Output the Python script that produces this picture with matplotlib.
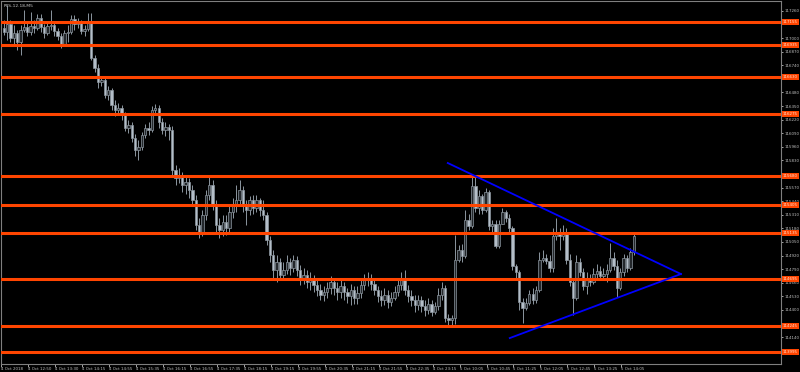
import matplotlib
matplotlib.use("Agg")
import matplotlib.pyplot as plt
import matplotlib.transforms as mtransforms

# RTS-12.18, M5 bars (4-5 Oct 2018), prices
first_open = 117095
closes = [
    117060, 117135, 117000, 117050, 116965, 117080, 117105, 117060, 117115, 117095,
    117195, 117105, 117050, 117115, 117125, 117070, 117020, 116945, 117050, 117060,
    117185, 117135, 117155, 117070, 117090, 117155, 116810, 116715, 116580, 116600,
    116455, 116505, 116360, 116310, 116330, 116265, 116140, 116170, 116045, 115930,
    115960, 116075, 116140, 116120, 116310, 116330, 116200, 116120, 116150, 116120,
    115740, 115660, 115690, 115595, 115625, 115545, 115450, 115210, 115145, 115310,
    115500, 115595, 115405, 115210, 115165, 115240, 115185, 115335, 115405, 115450,
    115545, 115405, 115355, 115450, 115375, 115450, 115355, 115310, 115070, 114925,
    114780, 114860, 114735, 114780, 114860, 114800, 114875, 114780, 114705, 114735,
    114665, 114705, 114640, 114590, 114540, 114570, 114610, 114665, 114610, 114570,
    114630, 114570, 114530, 114590, 114515, 114560, 114640, 114685, 114705, 114645,
    114590, 114530, 114495, 114540, 114475, 114515, 114570, 114640, 114685, 114590,
    114530, 114495, 114445, 114495, 114435, 114400, 114455, 114380, 114435, 114540,
    114610, 114320, 114300, 114320, 114875, 114970, 114915, 115260, 115200, 115585,
    115375, 115490, 115355, 115530, 115200, 115220, 115010, 115220, 115335, 115280,
    115185, 114820, 114760, 114475, 114415, 114465, 114550, 114495, 114590, 114875,
    114895, 114865, 114800, 115105, 115125, 115105, 115145, 114875, 114665, 114515,
    114860, 114760, 114630, 114705, 114665, 114745, 114770, 114725, 114745, 114780,
    114895, 114820, 114610, 114760, 114895, 114800, 114955, 115105,
]
highs = [
    117175, 117320, 117175, 117125, 117080, 117125, 117270, 117155, 117250, 117175,
    117230, 117230, 117135, 117155, 117270, 117155, 117095, 117050, 117080, 117125,
    117220, 117220, 117195, 117175, 117125, 117240, 117240, 116840, 116755, 116640,
    116620, 116540, 116525, 116410, 116380, 116360, 116295, 116215, 116200, 116085,
    116025, 116100, 116180, 116200, 116350, 116370, 116360, 116235, 116200, 116180,
    116160, 115785, 115755, 115720, 115680, 115660, 115595, 115500, 115280, 115355,
    115545, 115680, 115640, 115450, 115280, 115310, 115310, 115405, 115470, 115595,
    115640, 115585, 115450, 115490, 115500, 115500, 115470, 115450, 115335, 115105,
    114970, 114925, 114895, 114860, 114925, 114895, 114925, 114915, 114830, 114800,
    114780, 114760, 114735, 114685, 114645, 114630, 114665, 114725, 114705, 114665,
    114685, 114665, 114610, 114645, 114630, 114630, 114685, 114745, 114760, 114745,
    114705, 114630, 114590, 114610, 114590, 114570, 114630, 114705, 114760, 114780,
    114640, 114590, 114540, 114540, 114530, 114495, 114515, 114495, 114475, 114610,
    114665, 114640, 114360, 114350, 115115, 115020, 115030, 115355, 115315, 115690,
    115680, 115545, 115510, 115565, 115545, 115260, 115260, 115260, 115375, 115355,
    115315, 115200, 114840, 114780, 114515, 114515, 114590, 114610, 114630, 114955,
    114970, 114935, 114925, 115185, 115280, 115185, 115210, 115185, 114935, 114705,
    114925, 114895, 114800, 114760, 114745, 114800, 114840, 114820, 114800, 114840,
    115040, 114955, 114875, 114800, 114935, 114925, 114990, 115125,
]
lows = [
    117030, 116980, 116965, 116935, 116885, 116840, 117060, 117020, 117030, 117050,
    117080, 117060, 117000, 117030, 117080, 117020, 116980, 116905, 116925, 116965,
    117040, 117080, 117095, 117040, 117020, 117070, 116790, 116675, 116525, 116540,
    116430, 116410, 116310, 116255, 116275, 116215, 116110, 116090, 116005, 115870,
    115835, 115930, 116045, 116075, 116100, 116275, 116140, 116085, 116065, 116025,
    115690, 115595, 115615, 115525, 115510, 115470, 115405, 115165, 115090, 115105,
    115260, 115450, 115355, 115145, 115090, 115105, 115115, 115145, 115280, 115335,
    115405, 115335, 115210, 115310, 115315, 115335, 115300, 115260, 115020, 114860,
    114705, 114665, 114685, 114705, 114745, 114735, 114760, 114725, 114640, 114645,
    114610, 114590, 114570, 114530, 114495, 114485, 114515, 114550, 114540, 114495,
    114515, 114495, 114465, 114445, 114455, 114455, 114515, 114590, 114630, 114590,
    114540, 114475, 114435, 114445, 114415, 114435, 114495, 114530, 114590, 114540,
    114475, 114435, 114380, 114400, 114380, 114340, 114360, 114340, 114360, 114400,
    114495, 114285, 114245, 114255, 114265, 114860, 114860, 114895, 115165, 115185,
    115335, 115315, 115315, 115335, 115165, 115145, 114990, 114990, 115220, 115240,
    115145, 114780, 114705, 114400, 114275, 114400, 114445, 114455, 114465, 114570,
    114860, 114840, 114760, 114760, 115070, 114970, 115070, 114840, 114630, 114350,
    114495, 114725, 114590, 114550, 114630, 114645, 114705, 114685, 114685, 114665,
    114760, 114780, 114525, 114590, 114725, 114760, 114780, 114925,
]

# horizontal levels (orange) and triangle lines (blue)
levels = [117155, 116935, 116630, 116275, 115680, 115405, 115135, 114695, 114245, 113995]
upper_line_x = [131.8, 201.0]
upper_line_y = [115805, 114743]
lower_line_x = [150.2, 201.0]
lower_line_y = [114130, 114743]

price_ticks = list(range(114140, 117261, 130))
time_labels = [
    "4 Oct 2018", "4 Oct 12:50", "4 Oct 13:30", "4 Oct 14:15", "4 Oct 14:55",
    "4 Oct 15:35", "4 Oct 16:15", "4 Oct 16:55", "4 Oct 17:35", "4 Oct 18:15",
    "4 Oct 19:15", "4 Oct 19:55", "4 Oct 20:35", "4 Oct 21:15", "4 Oct 21:55",
    "4 Oct 22:35", "4 Oct 23:15", "5 Oct 10:05", "5 Oct 10:45", "5 Oct 11:25",
    "5 Oct 12:05", "5 Oct 12:45", "5 Oct 13:25", "5 Oct 14:05",
]

opens = [first_open] + closes[:-1]
xs = list(range(len(closes)))

fig = plt.figure(figsize=(8, 3.72), dpi=100, facecolor="black")
ax = fig.add_axes([1 / 800, 8 / 372, 780 / 800, 363 / 372])
ax.set_facecolor("black")

grey = "#8c969f"
bear = "#b4bec8"
bull = "#23272b"

ax.vlines(xs, lows, highs, color=grey, linewidth=0.7, zorder=2)
bottoms = [min(o, c) for o, c in zip(opens, closes)]
heights = [max(abs(c - o), 6) for o, c in zip(opens, closes)]
fills = [bull if c > o else bear for o, c in zip(opens, closes)]
ax.bar(xs, heights, bottom=bottoms, width=0.7, color=fills,
       edgecolor=grey, linewidth=0.5, zorder=3)

for lv in levels:
    ax.axhline(lv, color="#ff4500", linewidth=2.2, zorder=4)

ax.plot(upper_line_x, upper_line_y, color="#0000ff", linewidth=1.3, zorder=5)
ax.plot(lower_line_x, lower_line_y, color="#0000ff", linewidth=1.3, zorder=5)

ax.set_xlim(-0.8, 230.7)
ax.set_ylim(113882, 117355)

for side in ["left", "right", "top", "bottom"]:
    ax.spines[side].set_color("#7f7f7f")
    ax.spines[side].set_linewidth(0.8)

# price scale: labels hidden where an orange level tag sits on top of them
shown_ticks = [t for t in price_ticks if min(abs(t - lv) for lv in levels) > 30]
ax.yaxis.tick_right()
ax.set_yticks(shown_ticks)
ax.set_yticklabels([str(t) for t in shown_ticks])
ax.tick_params(axis="y", colors="#bfbfbf", labelsize=2.9, length=1.5, pad=0.8,
               width=0.6)

ax.set_xticks([8 * k - 0.7 for k in range(len(time_labels))])
ax.set_xticklabels(time_labels)
ax.tick_params(axis="x", colors="#bfbfbf", labelsize=2.9, length=2, pad=0.5,
               width=0.6)
for lbl in ax.get_xticklabels():
    lbl.set_horizontalalignment("left")

trans = mtransforms.blended_transform_factory(ax.transAxes, ax.transData)
for lv in levels:
    ax.text(1.0025, lv, str(lv), transform=trans, fontsize=2.9, color="#ffe0d0",
            va="center", ha="left", clip_on=False, zorder=10,
            bbox=dict(boxstyle="square,pad=0.3", facecolor="#ff4500",
                      edgecolor="none"))

ax.text(0.003, 0.992, "RTS-12.18,M5", transform=ax.transAxes, fontsize=3.2,
        color="#c8c8c8", va="top", ha="left")

fig.savefig("out.png", dpi=100, facecolor="black")
